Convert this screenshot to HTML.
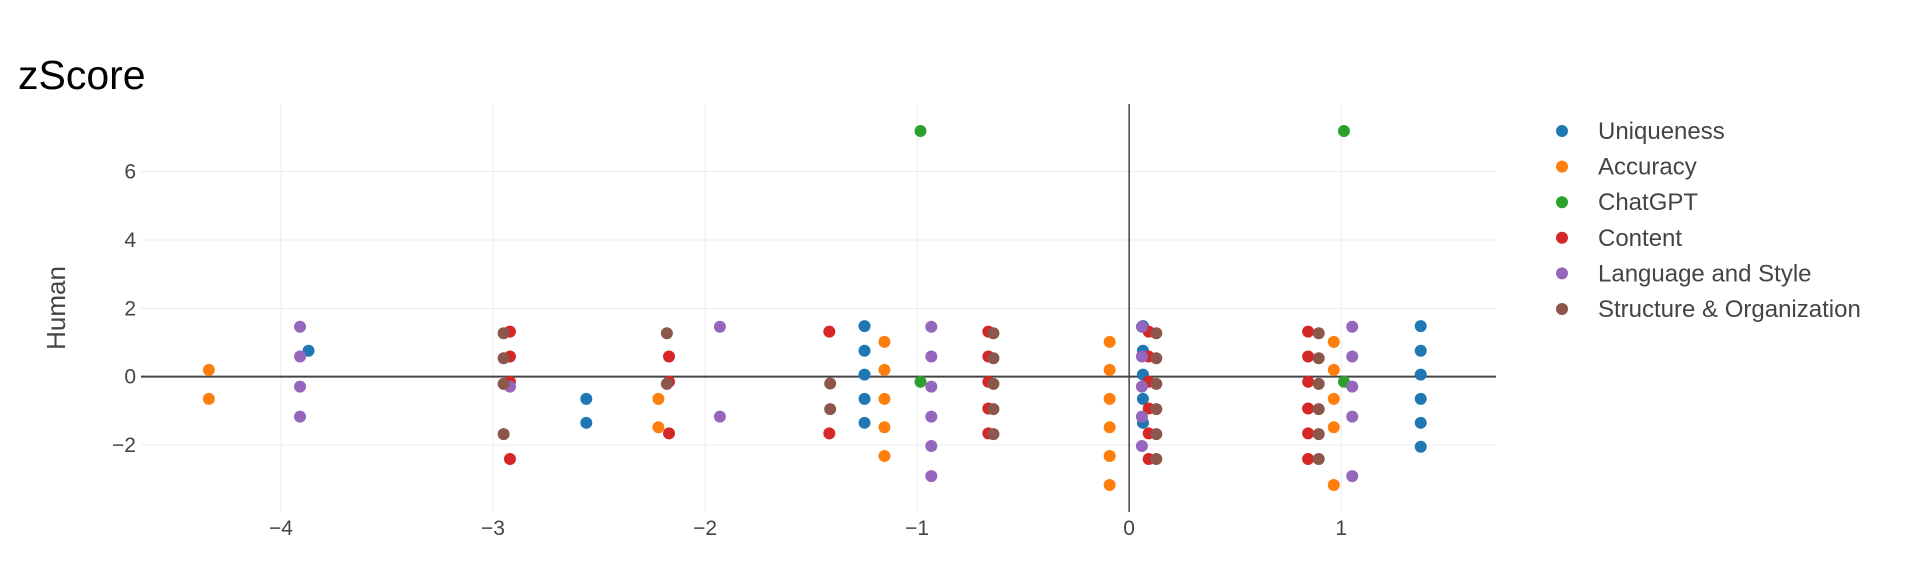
<!DOCTYPE html>
<html><head><meta charset="utf-8">
<style>
html,body{margin:0;padding:0;background:#fff;}
svg{display:block;font-family:"Liberation Sans",Arial,sans-serif;}
</style></head>
<body>
<svg id="chart" width="1920" height="568" viewBox="0 0 1920 568">
  <text x="18" y="89" font-size="41" fill="#000">zScore</text>
  <g id="grid"></g>
  <g id="axes"></g>
  <g id="marks"></g>
  <text transform="translate(65,308) rotate(-90)" text-anchor="middle" font-size="26" fill="#444">Human</text>
  <g id="legend"></g>
</svg>
<script>
const seriesNames = ["Uniqueness","Accuracy","ChatGPT","Content","Language and Style","Structure & Organization"];
const seriesColors = ["#1f77b4","#ff7f0e","#2ca02c","#d62728","#9467bd","#8c564b"];
const uniquenessX = [-3.87,-2.56,-2.56,-1.248,-1.248,-1.248,-1.248,-1.248,0.065,0.065,0.065,0.065,0.065,1.375,1.375,1.375,1.375,1.375,1.375];
const uniquenessY = [0.76,-0.65,-1.35,1.48,0.76,0.06,-0.65,-1.35,1.48,0.76,0.06,-0.65,-1.35,1.48,0.76,0.06,-0.65,-1.35,-2.05];
const accuracyX = [-4.34,-4.34,-2.22,-2.22,-1.154,-1.154,-1.154,-1.154,-1.154,-0.092,-0.092,-0.092,-0.092,-0.092,-0.092,0.965,0.965,0.965,0.965,0.965];
const accuracyY = [0.2,-0.65,-0.65,-1.48,1.02,0.2,-0.65,-1.48,-2.32,1.02,0.2,-0.65,-1.48,-2.32,-3.17,1.02,0.2,-0.65,-1.48,-3.17];
const chatgptX = [-0.984,-0.984,1.013,1.013];
const chatgptY = [7.19,-0.15,7.19,-0.15];
const contentX = [-2.92,-2.92,-2.92,-2.92,-2.17,-2.17,-2.17,-1.414,-1.414,-0.664,-0.664,-0.664,-0.664,-0.664,0.092,0.092,0.092,0.092,0.092,0.092,0.844,0.844,0.844,0.844,0.844,0.844];
const contentY = [1.32,0.59,-0.15,-2.41,0.59,-0.15,-1.66,1.32,-1.66,1.32,0.59,-0.15,-0.93,-1.66,1.32,0.59,-0.15,-0.93,-1.66,-2.41,1.32,0.59,-0.15,-0.93,-1.66,-2.41];
const languageX = [-3.91,-3.91,-3.91,-3.91,-2.92,-1.93,-1.93,-0.933,-0.933,-0.933,-0.933,-0.933,-0.933,0.06,0.06,0.06,0.06,0.06,1.052,1.052,1.052,1.052,1.052];
const languageY = [1.46,0.59,-0.29,-1.17,-0.29,1.46,-1.17,1.46,0.59,-0.29,-1.17,-2.03,-2.91,1.46,0.59,-0.29,-1.17,-2.03,1.46,0.59,-0.29,-1.17,-2.91];
const structureX = [-2.95,-2.95,-2.95,-2.95,-2.18,-2.18,-1.41,-1.41,-0.64,-0.64,-0.64,-0.64,-0.64,0.128,0.128,0.128,0.128,0.128,0.128,0.894,0.894,0.894,0.894,0.894,0.894];
const structureY = [1.27,0.54,-0.21,-1.68,1.27,-0.21,-0.2,-0.95,1.27,0.54,-0.21,-0.95,-1.68,1.27,0.54,-0.21,-0.95,-1.68,-2.41,1.27,0.54,-0.21,-0.95,-1.68,-2.41];
const xTicks = [-4,-3,-2,-1,0,1];
const xTickLabels = ["\u22124","\u22123","\u22122","\u22121","0","1"];
const yTicks = [-2,0,2,4,6];
const yTickLabels = ["\u22122","0","2","4","6"];

const NS="http://www.w3.org/2000/svg";
const plotL=141, plotR=1496, plotT=104, plotB=512;
const xMin=-4.66, xMax=1.73, yMin=-3.96, yMax=7.98;
function xs(v){return plotL+(v-xMin)/(xMax-xMin)*(plotR-plotL);}
function ys(v){return plotB-(v-yMin)/(yMax-yMin)*(plotB-plotT);}
function mk(tag,attrs,parent){const e=document.createElementNS(NS,tag);for(const k in attrs)e.setAttribute(k,attrs[k]);parent.appendChild(e);return e;}

const grid=document.getElementById('grid'), axes=document.getElementById('axes'), marks=document.getElementById('marks'), legend=document.getElementById('legend');
xTicks.forEach((t,i)=>{
  if(t!==0){const l=mk('line',{x1:xs(t),x2:xs(t),y1:plotT,y2:plotB,stroke:'#ebebeb','stroke-width':1},grid);
  
  }
  const tx=mk('text',{x:xs(t),y:535,'text-anchor':'middle','font-size':21,fill:'#444'},axes);
  tx.textContent=xTickLabels[i];
  
  
});
yTicks.forEach((t,i)=>{
  if(t!==0){const l=mk('line',{x1:plotL,x2:plotR,y1:ys(t),y2:ys(t),stroke:'#ebebeb','stroke-width':1},grid);
  
  }
  const tx=mk('text',{x:136,y:ys(t)+7,'text-anchor':'end','font-size':21,fill:'#444'},axes);
  tx.textContent=yTickLabels[i];
  
  
});
const zx=mk('line',{x1:plotL,x2:plotR,y1:ys(0),y2:ys(0),stroke:'#444','stroke-width':2},axes);


const zy=mk('line',{x1:xs(0),x2:xs(0),y1:plotT,y2:plotB,stroke:'#444','stroke-width':1.5},axes);



const allX=[uniquenessX,accuracyX,chatgptX,contentX,languageX,structureX];
const allY=[uniquenessY,accuracyY,chatgptY,contentY,languageY,structureY];
allX.forEach((xa,si)=>{
  const g=mk('g',{},marks);
  
  
  xa.forEach((xv,j)=>{
    const c=mk('circle',{cx:xs(xv),cy:ys(allY[si][j]),r:6,fill:seriesColors[si]},g);
    
    
  });
});
seriesNames.forEach((n,i)=>{
  const y=131+i*35.6;
  const g=mk('g',{},legend);
  
  
  mk('circle',{cx:1562,cy:y,r:6,fill:seriesColors[i]},g);
  const t=mk('text',{x:1598,y:y+8,'font-size':24,fill:'#444'},g);
  t.textContent=n;
});
</script>
</body></html>
